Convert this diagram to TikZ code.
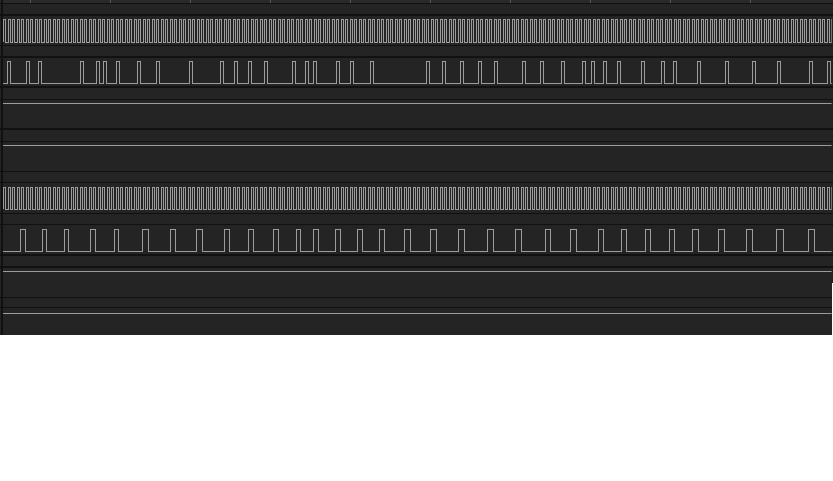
\documentclass[tikz,border=0pt]{standalone}
\begin{document}
\begin{tikzpicture}[x=1pt,y=-1pt,
  sep/.style={draw=sepc,line width=1.6pt},
  sig/.style={draw=sigc,line width=0.95pt,line join=miter},
  flat/.style={draw=sigc,line width=1pt}]
\definecolor{bgc}{HTML}{242424}
\definecolor{sepc}{HTML}{111111}
\definecolor{sigc}{HTML}{9C9C9C}
\definecolor{tickc}{HTML}{555555}
\definecolor{topc}{HTML}{2A2A2A}
\useasboundingbox (0,0) rectangle (833,480);
\fill[white] (0,0) rectangle (833,480);
\fill[bgc] (0,0) rectangle (833,334.5);
\fill[topc] (0,0) rectangle (833,3.5);
\foreach \t in {30,110,...,750} \draw[tickc,line width=0.8pt] (\t,0) -- (\t,3);
% separators
\foreach \s in {3.5,15,45.5,57,87,99.5,129,141.5,171.5,182.5,213.5,224.5,255,267,297.5,307.5}
  \draw[sep] (0,\s) -- (833,\s);
% left edge
\draw[sepc,line width=1.4pt] (2,0) -- (2,334.5);
\begin{scope}
\clip (3,0) rectangle (831.5,334.5);
% clock rows
\draw[sig] (3.5,42) \foreach \i in {1,...,186} { -- ++(0,-23) -- ++(2.25,0) -- ++(0,23) -- ++(2.25,0) };
\draw[sig] (3.5,209) \foreach \i in {1,...,186} { -- ++(0,-22) -- ++(2.25,0) -- ++(0,22) -- ++(2.25,0) };
% pulse row 1
\draw[sig] (3,83) \foreach \a/\b in {7.5/10.5, 26.5/29.5, 38.5/41.5, 80.5/83.5, 96.5/99.5, 103.5/106.5, 116.5/119.5, 137.5/140.5, 156.5/159.5, 189.5/192.5, 220.5/223.5, 234.5/237.5, 248.5/251.5, 264.5/267.5, 292.5/295.5, 305.5/308.5, 313.5/316.5, 336.5/339.5, 350.5/353.5, 370.5/373.5, 426.5/429.5, 442.5/445.5, 460.5/463.5, 478.5/481.5, 494.5/497.5, 522.5/525.5, 540.5/543.5, 561.5/564.5, 582.5/585.5, 591.5/594.5, 603.5/606.5, 617.5/620.5, 641.5/644.5, 661.5/664.5, 673.5/676.5, 697.5/700.5, 725.5/728.5, 752.5/755.5, 777.5/780.5, 809.5/812.5, 827.5/830.5}
  { -- (\a,83) -- (\a,61) -- (\b,61) -- (\b,83) } -- (833,83);
% pulse row 2
\draw[sig] (3,251) \foreach \a/\b in {20/25.3, 42/46, 64.7/68.7, 90.7/95.3, 114.7/118.7, 142.7/148, 170.7/175.3, 196.7/202, 224.7/229.3, 248.7/253.3, 273.3/278, 296/300.7, 313.3/318.7, 335.3/340.7, 357.3/362, 379.3/384, 404/410, 430.7/436, 458.7/464, 487.3/493.3, 515.3/521.3, 545.3/550.7, 570.7/576.7, 598.7/603.3, 621.3/626.7, 645.3/650.7, 669.3/674, 692.7/698, 718.7/724, 746.7/752, 776.7/783.3, 808.7/814.7}
  { -- (\a,251) -- (\a,229) -- (\b,229) -- (\b,251) } -- (833,251);
% flat lines
\foreach \f in {103,145,271,313} \draw[flat] (3,\f) -- (833,\f);
\end{scope}
\fill[white] (831.5,283) rectangle (833,334.5);
\end{tikzpicture}
\end{document}
